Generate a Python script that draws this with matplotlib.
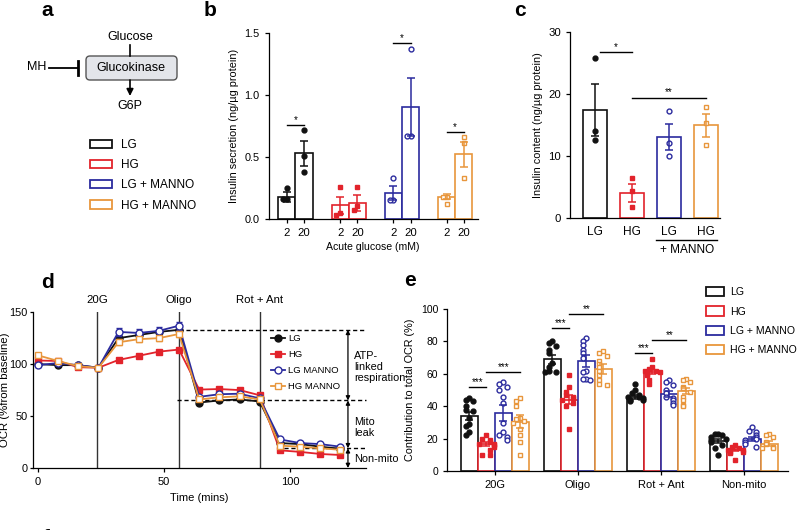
import numpy as np
import matplotlib
matplotlib.use('Agg')
import matplotlib.pyplot as plt
from matplotlib.patches import FancyBboxPatch, Patch
from matplotlib.lines import Line2D

plt.rcParams['font.family'] = ['Liberation Sans', 'DejaVu Sans']
plt.rcParams['axes.linewidth'] = 0.9
plt.rcParams['xtick.major.width'] = 0.9
plt.rcParams['ytick.major.width'] = 0.9
plt.rcParams['xtick.major.size'] = 3
plt.rcParams['ytick.major.size'] = 3

# groups and colours
groups = ['LG', 'HG', 'LG + MANNO', 'HG + MANNO']
colors = ['#111111', '#e2232b', '#2b2b9e', '#e8963c']
filled = [True, True, False, False]
shapes = ['o', 's', 'o', 's']

# panel b: insulin secretion, acute 2 / 20 mM glucose
b_ticks = ['2', '20']
b_mean = [[0.18, 0.53], [0.11, 0.13], [0.21, 0.90], [0.18, 0.52]]
b_sem = [[0.04, 0.10], [0.07, 0.065], [0.055, 0.235], [0.02, 0.10]]
b_points = [[[0.25, 0.16, 0.16], [0.72, 0.51, 0.38]],
            [[0.26, 0.05, 0.03], [0.26, 0.10, 0.07]],
            [[0.33, 0.15, 0.15], [1.37, 0.67, 0.67]],
            [[0.18, 0.18, 0.12], [0.66, 0.61, 0.33]]]
b_sig = ['*', None, '*', '*']
b_sig_y = [0.755, None, 1.42, 0.70]

# panel c: insulin content
c_ticks = ['LG', 'HG', 'LG', 'HG']
c_mean = [17.4, 4.0, 13.0, 14.9]
c_sem = [4.2, 1.4, 2.1, 1.8]
c_points = [[25.7, 14.0, 12.6], [6.4, 4.3, 1.7], [17.2, 12.0, 10.0], [17.8, 15.3, 11.7]]
c_sig = [('*', 0.13, 1, 26.8), ('**', 1, 3, 19.4)]

# panel d: OCR time course
d_time = [0, 8, 16, 24, 32, 40, 48, 56, 64, 72, 80, 88, 96, 104, 112, 120]
d_lg = [100, 99, 99, 96.5, 125, 128, 131, 133, 63, 65, 66, 64, 24, 23, 20.5, 18.5]
d_hg = [103.5, 103, 97, 96.5, 104, 108, 112, 114, 75.5, 76, 75, 70, 17, 15.5, 13.5, 12.5]
d_lgm = [99, 101, 99, 96.5, 131, 130, 132, 137, 68.5, 71, 71.5, 67, 27.5, 24, 23, 20.5]
d_hgm = [108.5, 103, 98, 96.5, 121, 124, 125, 129, 66, 68, 69, 66, 21.5, 20.5, 19, 17.5]
d_sem_lg = [1.5, 1, 1, 1, 2, 2, 2, 2, 1, 1, 1, 1, 1, 1, 1, 1]
d_sem_hg = [1.5, 1, 1, 1, 1.5, 1.5, 1.5, 1.5, 1, 1, 1, 1, 1, 1, 1, 1]
d_sem_lgm = [2, 1.5, 1, 1, 4, 4, 4, 4, 2, 1.5, 1.5, 1.5, 1.5, 1, 1, 1]
d_sem_hgm = [2, 1.5, 1, 1, 3, 3, 3, 3, 1.5, 1.5, 1.5, 1.5, 1, 1, 1, 1]
d_legend = ['LG', 'HG', 'LG MANNO', 'HG MANNO']
d_injections = [('20G', 23.5), ('Oligo', 56), ('Rot + Ant', 88)]
d_levels = [133, 65, 19]
d_level_start = [56, 55, 95]

# panel e: contribution to total OCR
e_cats = ['20G', 'Oligo', 'Rot + Ant', 'Non-mito']
e_mean = [[34, 69, 46, 18.5],
          [16.5, 44, 61, 13],
          [36, 68, 47.5, 20],
          [30.5, 63, 49.5, 17]]
e_sem = [[2.7, 2.8, 1.2, 1.2],
         [1.2, 2.8, 1.2, 0.8],
         [5.0, 3.5, 2.0, 1.3],
         [4.0, 3.0, 2.0, 1.5]]
e_points = [
    [[45, 44, 43, 40, 38, 37, 33, 29, 28, 24, 22],
     [80, 79, 77, 75, 73, 67, 64, 62, 61, 61],
     [54, 50, 48, 47, 46, 46, 45, 44, 44, 43],
     [23, 23, 22, 21, 20, 19, 18, 16, 14, 10]],
    [[22, 20, 19, 18, 17, 17, 16, 15, 13, 10, 10],
     [59, 52, 49, 47, 46, 45, 44, 42, 40, 26],
     [69, 64, 63, 62, 62, 61, 61, 60, 59, 56, 54],
     [16, 15, 14, 13, 13, 12, 12, 11, 7]],
    [[55, 54, 52, 50, 46, 42, 30, 24, 22, 21, 19],
     [82, 80, 78, 75, 73, 70, 62, 61, 57, 57, 56],
     [56, 55, 53, 50, 48, 46, 45, 44, 42, 41],
     [27, 25, 24, 22, 21, 20, 19, 18, 17, 15]],
    [[45, 43, 40, 33, 32, 31, 30, 26, 22, 18, 10],
     [74, 73, 71, 68, 66, 64, 62, 59, 56, 54, 53],
     [57, 56, 55, 52, 51, 49, 46, 44, 41, 40],
     [23, 22, 21, 18, 17, 15, 14, 14]]]
# (category, from group, to group, height, stars)
e_sig = [(0, 0, 1, 52, '***'), (0, 1, 3, 61.3, '***'),
         (1, 0, 1, 88, '***'), (1, 1, 3, 97, '**'),
         (2, 0, 1, 72.6, '***'), (2, 1, 3, 80.8, '**')]


def swarm(vals, thresh, step):
    pattern = [0, -1, 1, -2, 2, -1.5, 1.5]
    offs, placed = [], []
    for v in vals:
        k = sum(1 for p in placed if abs(p - v) < thresh)
        offs.append(pattern[k % len(pattern)] * step)
        placed.append(v)
    return np.array(offs)


def draw_points(ax, x, vals, gi, thresh, step, ms):
    xs = x + swarm(vals, thresh, step)
    fc = colors[gi] if filled[gi] else 'white'
    ax.plot(xs, vals, ls='none', marker=shapes[gi], ms=ms, mfc=fc,
            mec=colors[gi], mew=1.0, zorder=3, clip_on=False)


def sig_line(ax, x0, x1, y, txt, fs=7):
    ax.plot([x0, x1], [y, y], color='k', lw=1.0, clip_on=False)
    ax.text((x0 + x1) / 2, y, txt, ha='center', va='bottom', fontsize=fs)


def clean(ax):
    ax.spines['top'].set_visible(False)
    ax.spines['right'].set_visible(False)


fig = plt.figure(figsize=(8, 5.3), dpi=100)

# overlay for panel a and panel letters
ov = fig.add_axes([0, 0, 1, 1])
ov.set_xlim(0, 800)
ov.set_ylim(530, 0)
ov.axis('off')

ov.text(130, 37, 'Glucose', ha='center', va='center', fontsize=9)
ov.plot([130, 130], [45, 56], color='k', lw=1.2)
ov.add_patch(FancyBboxPatch((86, 56), 91, 24, boxstyle='round,pad=0,rounding_size=4',
                            fc='#e3e5ea', ec='#555555', lw=1))
ov.text(131, 68, 'Glucokinase', ha='center', va='center', fontsize=9)
ov.text(37, 67, 'MH', ha='center', va='center', fontsize=9)
ov.plot([49, 78], [68, 68], color='k', lw=1.3)
ov.plot([78, 78], [61, 75], color='k', lw=2)
ov.annotate('', xy=(130, 96), xytext=(130, 80),
            arrowprops=dict(arrowstyle='-|>', color='k', lw=1.2, mutation_scale=10,
                            shrinkA=0, shrinkB=0))
ov.text(130, 106, 'G6P', ha='center', va='center', fontsize=9)

for lab, x, y in [('a', 47, 11), ('b', 210, 11), ('c', 520, 11), ('d', 47, 282), ('e', 410, 281)]:
    ov.text(x, y, lab, ha='center', va='center', fontsize=15, fontweight='bold')
ov.text(46, 529.5, 'f', ha='center', va='top', fontsize=15, fontweight='bold')

patch_handles = [Patch(fc='white', ec=c, lw=1.3) for c in colors]
fig.legend(patch_handles, groups, loc='upper left', bbox_to_anchor=(0.1125, 0.738),
           frameon=False, fontsize=8.5, handlelength=1.9, handleheight=0.7,
           handletextpad=0.7, labelspacing=0.7, borderpad=0, borderaxespad=0)

# panel b
axb = fig.add_axes([0.336, 0.587, 0.261, 0.351])
clean(axb)
gstep = 3.1
bx, bl = [], []
for gi in range(4):
    for j in range(2):
        x = gi * gstep + j
        axb.bar(x, b_mean[gi][j], width=1.0, fc='white', ec=colors[gi], lw=1.2, zorder=2)
        draw_points(axb, x, b_points[gi][j], gi, 0.04, 0.22, 3.5)
        axb.errorbar(x, b_mean[gi][j], yerr=b_sem[gi][j], fmt='none', ecolor=colors[gi],
                     elinewidth=1.1, capsize=3, capthick=1.1, zorder=4)
        bx.append(x)
        bl.append(b_ticks[j])
    if b_sig[gi]:
        sig_line(axb, gi * gstep, gi * gstep + 1, b_sig_y[gi], b_sig[gi])
axb.set_xlim(-1.05, 11.1)
axb.set_ylim(0, 1.5)
axb.set_yticks([0, 0.5, 1.0, 1.5])
axb.set_yticklabels(['0.0', '0.5', '1.0', '1.5'])
axb.set_xticks(bx)
axb.set_xticklabels(bl)
axb.tick_params(labelsize=7.8)
axb.tick_params(axis='x', labelsize=8.2)
axb.set_xlabel('Acute glucose (mM)', fontsize=7.6, labelpad=3)
axb.set_ylabel('Insulin secretion (ng/µg protein)', fontsize=7.8)

# panel c
axc = fig.add_axes([0.7125, 0.589, 0.1875, 0.351])
clean(axc)
for gi in range(4):
    axc.bar(gi, c_mean[gi], width=0.63, fc='white', ec=colors[gi], lw=1.2, zorder=2)
    draw_points(axc, gi, c_points[gi], gi, 0.9, 0.13, 3.5)
    axc.errorbar(gi, c_mean[gi], yerr=c_sem[gi], fmt='none', ecolor=colors[gi],
                 elinewidth=1.1, capsize=3, capthick=1.1, zorder=4)
for txt, x0, x1, y in c_sig:
    sig_line(axc, x0, x1, y, txt)
axc.set_xlim(-0.68, 3.38)
axc.set_ylim(0, 30)
axc.set_yticks([0, 10, 20, 30])
axc.set_xticks(range(4))
axc.set_xticklabels(c_ticks)
axc.tick_params(axis='y', labelsize=8.2)
axc.tick_params(axis='x', length=0, pad=6, labelsize=8.6)
axc.set_ylabel('Insulin content (ng/µg protein)', fontsize=7.8)
tr = axc.get_xaxis_transform()
axc.plot([1.65, 3.3], [-0.118, -0.118], color='k', lw=1, transform=tr, clip_on=False)
axc.text(2.48, -0.175, '+ MANNO', ha='center', va='center', fontsize=8.5, transform=tr)

# panel d
axd = fig.add_axes([0.041, 0.117, 0.416, 0.294])
clean(axd)
series = [(d_hgm, d_sem_hgm, 3), (d_hg, d_sem_hg, 1), (d_lg, d_sem_lg, 0), (d_lgm, d_sem_lgm, 2)]
for vals, sem, gi in series:
    fc = colors[gi] if filled[gi] else 'white'
    axd.errorbar(d_time, vals, yerr=sem, color=colors[gi], lw=1.3, marker=shapes[gi],
                 ms=5, mfc=fc, mec=colors[gi], mew=1.0, elinewidth=1, capsize=2.5,
                 zorder=3 + gi * 0.1)
for name, x in d_injections:
    axd.axvline(x, color='#333333', lw=1, zorder=1)
    axd.text(x, 1.08, name, transform=axd.get_xaxis_transform(), ha='center',
             va='center', fontsize=8.2)
for y, x0 in zip(d_levels, d_level_start):
    axd.plot([x0, 130], [y, y], color='k', lw=1, dashes=(3, 2), clip_on=False, zorder=2)
arrow_ends = d_levels + [0]
for ya, yb in zip(arrow_ends[:-1], arrow_ends[1:]):
    axd.annotate('', xy=(123, ya), xytext=(123, yb),
                 arrowprops=dict(arrowstyle='<|-|>', color='k', lw=0.9, mutation_scale=6,
                                 shrinkA=0, shrinkB=0), annotation_clip=False)
axd.text(125.5, 97, 'ATP-\nlinked\nrespiration', ha='left', va='center', fontsize=7.8,
         linespacing=1.15)
axd.text(125.5, 39, 'Mito\nleak', ha='left', va='center', fontsize=7.8, linespacing=1.15)
axd.text(125.5, 9, 'Non-mito', ha='left', va='center', fontsize=7.8)
axd.set_xlim(-2, 130)
axd.set_ylim(0, 150)
axd.set_xticks([0, 50, 100])
axd.set_yticks([0, 50, 100, 150])
axd.tick_params(labelsize=8)
axd.tick_params(axis='y', pad=1.5, length=2.5, labelsize=7.8)
axd.set_xlabel('Time (mins)', fontsize=8)
axd.set_ylabel('OCR (%from baseline)', fontsize=8.2)
axd.yaxis.set_label_coords(-0.068, 0.5)
d_handles = []
for gi in range(4):
    fc = colors[gi] if filled[gi] else 'white'
    d_handles.append(Line2D([], [], color=colors[gi], lw=1.3, marker=shapes[gi], ms=5,
                            mfc=fc, mec=colors[gi], mew=1.0))
axd.legend(d_handles, d_legend, loc='upper left', bbox_to_anchor=(0.339, 0.37),
           bbox_transform=fig.transFigure, frameon=False, fontsize=6.8,
           handlelength=1.5, handletextpad=0.3, labelspacing=0.75, borderpad=0,
           borderaxespad=0)

# panel e
axe = fig.add_axes([0.559, 0.111, 0.426, 0.306])
clean(axe)
estep = 4.9
offsets = [-1.5, -0.5, 0.5, 1.5]
for gi in range(4):
    for ci in range(4):
        x = ci * estep + offsets[gi]
        axe.bar(x, e_mean[gi][ci], width=1.0, fc='white', ec=colors[gi], lw=1.2, zorder=2)
        draw_points(axe, x, e_points[gi][ci], gi, 3.2, 0.22, 3.5)
        axe.errorbar(x, e_mean[gi][ci], yerr=e_sem[gi][ci], fmt='none', ecolor=colors[gi],
                     elinewidth=1.1, capsize=3, capthick=1.1, zorder=4)
for ci, g0, g1, y, txt in e_sig:
    sig_line(axe, ci * estep + offsets[g0], ci * estep + offsets[g1], y, txt)
axe.set_xlim(-2.8, 17.3)
axe.set_ylim(0, 100)
axe.set_yticks(range(0, 101, 20))
axe.set_xticks([ci * estep for ci in range(4)])
axe.set_xticklabels(e_cats)
axe.tick_params(axis='y', labelsize=7.5)
axe.tick_params(axis='x', labelsize=8)
axe.set_ylabel('Contribution to total OCR (%)', fontsize=7.8)
fig.legend(patch_handles, groups, loc='upper left', bbox_to_anchor=(0.8825, 0.458),
           frameon=False, fontsize=7.6, handlelength=1.7, handleheight=0.95,
           handletextpad=0.6, labelspacing=0.85, borderpad=0, borderaxespad=0)

fig.savefig('out.png', dpi=100)
